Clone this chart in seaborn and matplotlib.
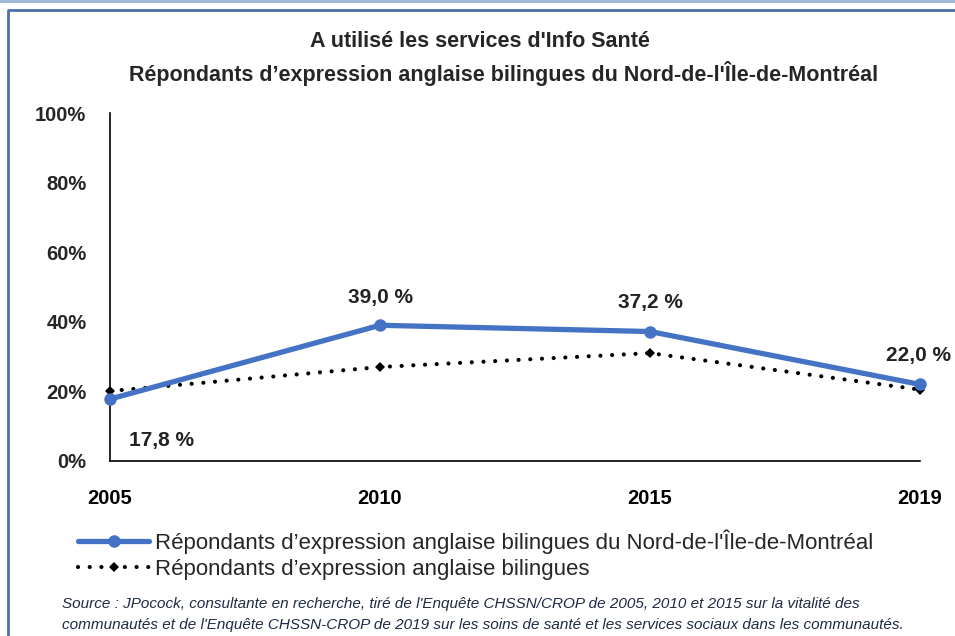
import pandas as pd
import matplotlib
matplotlib.use("Agg")
import matplotlib.pyplot as plt
import seaborn as sns

# Données
annees = ["2005", "2010", "2015", "2019"]
nord_ile = [17.8, 39.0, 37.2, 22.0]
bilingues = [20.1, 27.0, 31.0, 20.5]
etiquettes = ["17,8 %", "39,0 %", "37,2 %", "22,0 %"]

serie_nord = "Répondants d’expression anglaise bilingues du Nord-de-l'Île-de-Montréal"
serie_bil = "Répondants d’expression anglaise bilingues"

sns.set_style("white")
plt.rcParams["font.family"] = ["Liberation Sans", "DejaVu Sans"]

df = pd.DataFrame({
    "pos": list(range(len(annees))) * 2,
    "valeur": nord_ile + bilingues,
    "serie": [serie_nord] * len(annees) + [serie_bil] * len(annees),
})

fig = plt.figure(figsize=(9.55, 6.36), dpi=100)
ax = fig.add_axes([0.1152, 0.2752, 0.8482, 0.5471])

sns.lineplot(data=df[df["serie"] == serie_bil], x="pos", y="valeur", ax=ax,
             color="black", linewidth=3, linestyle=(0, (0.01, 2.8)),
             dash_capstyle="round", marker="D", markersize=5,
             markeredgewidth=0, label=serie_bil, zorder=2, clip_on=False)
sns.lineplot(data=df[df["serie"] == serie_nord], x="pos", y="valeur", ax=ax,
             color="#4472C4", linewidth=3.8, marker="o", markersize=9,
             markeredgewidth=0, label=serie_nord, zorder=3, clip_on=False)

# étiquettes de données
decal = [(37, -30), (0, 20), (0, 21), (-1, 21)]
for i, txt in enumerate(etiquettes):
    ax.annotate(txt, (i, nord_ile[i]), xytext=decal[i], textcoords="offset points",
                ha="center", va="center", fontsize=15, fontweight="bold",
                color="#222222", annotation_clip=False)

ax.set_xlim(0, len(annees) - 1)
ax.set_ylim(0, 100)
ax.set_xticks(range(len(annees)))
ax.set_xticklabels(annees)
ax.set_yticks(range(0, 101, 20))
ax.set_yticklabels([f"{v}%" for v in range(0, 101, 20)])
ax.set_xlabel("")
ax.set_ylabel("")
ax.tick_params(axis="x", length=7, width=1, direction="out", pad=13,
               labelsize=14.5, colors="black")
ax.tick_params(axis="y", length=0, pad=17, labelsize=14.5)
for lab in ax.get_xticklabels() + ax.get_yticklabels():
    lab.set_fontweight("bold")
for s in ["top", "right"]:
    ax.spines[s].set_visible(False)
for s in ["left", "bottom"]:
    ax.spines[s].set_color("black")
    ax.spines[s].set_linewidth(1.2)

# titre
fig.text(0.503, 0.934, "A utilisé les services d'Info Santé", ha="center",
         va="center", fontsize=15.5, fontweight="bold")
fig.text(0.527, 0.884, serie_nord, ha="center",
         va="center", fontsize=15.5, fontweight="bold")

# légende
h, l = ax.get_legend_handles_labels()
ax.legend(h[::-1], l[::-1], loc="center left", bbox_to_anchor=(0.082, 0.128),
          bbox_transform=fig.transFigure, frameon=False, fontsize=16,
          handlelength=3.2, handletextpad=0.25, labelspacing=0.2, borderaxespad=0,
          borderpad=0)

# source
fig.text(0.065, 0.05, "Source : JPocock, consultante en recherche, tiré de l'Enquête CHSSN/CROP de 2005, 2010 et 2015 sur la vitalité des",
         fontsize=11, style="italic", color="#1F2A44", va="center")
fig.text(0.065, 0.018, "communautés et de l'Enquête CHSSN-CROP de 2019 sur les soins de santé et les services sociaux dans les communautés.",
         fontsize=11, style="italic", color="#1F2A44", va="center")

# cadre
fig.add_artist(plt.Line2D([0, 1], [0.998, 0.998], color="#9DB3D8", linewidth=2))
fig.add_artist(plt.Line2D([0.008, 0.008, 1], [0, 0.985, 0.985], color="#4F6FA8", linewidth=2))

fig.savefig("out.png", dpi=100)
